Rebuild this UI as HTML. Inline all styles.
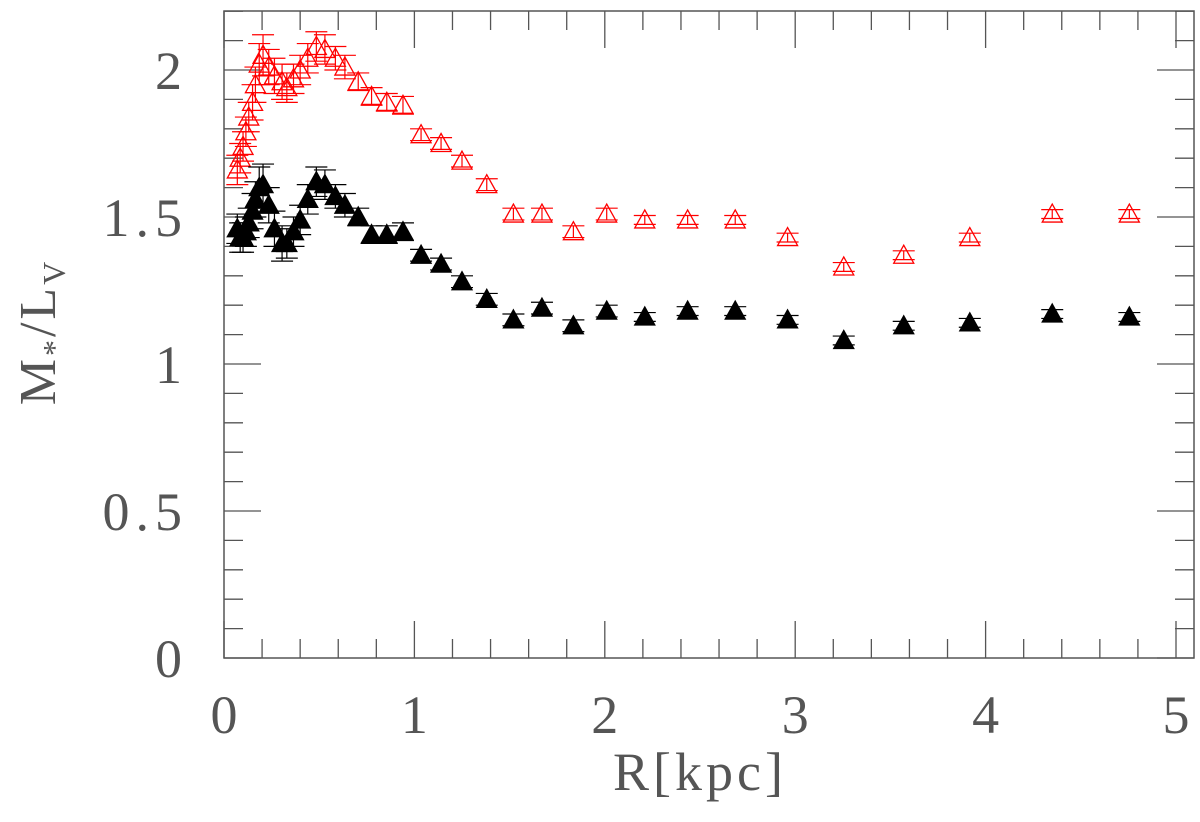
<!DOCTYPE html>
<html><head><meta charset="utf-8"><style>
html,body{margin:0;padding:0;background:#fff;width:1200px;height:822px;overflow:hidden}
svg{display:block}
text{font-family:"Liberation Serif",serif;fill:#555}
</style></head><body>
<svg id="chart" width="1200" height="822">
<g id="axes"></g>
<g id="series"></g>
<text x="700" y="790" font-size="54" text-anchor="middle" letter-spacing="4">R[kpc]</text>
<text transform="translate(55,332) rotate(-90)" font-size="52" text-anchor="middle" letter-spacing="3">M<tspan font-size="32" dy="10">*</tspan><tspan dy="-10">/L</tspan><tspan font-size="32" dy="10">V</tspan></text>
</svg>
<script>
const radius=[0.07,0.085,0.1,0.115,0.13,0.15,0.165,0.185,0.205,0.235,0.265,0.305,0.33,0.365,0.4,0.44,0.485,0.53,0.585,0.635,0.705,0.775,0.855,0.94,1.035,1.14,1.25,1.38,1.52,1.67,1.835,2.01,2.21,2.435,2.685,2.96,3.255,3.57,3.917,4.35,4.755];
const redValues=[1.66,1.70,1.74,1.79,1.84,1.89,1.95,2.02,2.05,2.01,1.98,1.96,1.94,1.97,2.00,2.04,2.08,2.07,2.04,2.01,1.96,1.91,1.89,1.88,1.78,1.75,1.69,1.61,1.51,1.51,1.45,1.51,1.49,1.49,1.49,1.43,1.33,1.37,1.43,1.51,1.51];
const redErrors=[0.05,0.05,0.05,0.05,0.05,0.06,0.06,0.07,0.07,0.06,0.06,0.06,0.05,0.05,0.05,0.05,0.05,0.05,0.04,0.04,0.03,0.03,0.03,0.03,0.02,0.02,0.02,0.02,0.02,0.02,0.02,0.02,0.015,0.015,0.015,0.015,0.015,0.015,0.015,0.015,0.015];
const blackValues=[1.46,1.43,1.43,1.45,1.48,1.52,1.56,1.60,1.61,1.54,1.46,1.41,1.41,1.45,1.49,1.56,1.62,1.61,1.57,1.54,1.50,1.44,1.44,1.45,1.37,1.34,1.28,1.22,1.15,1.19,1.13,1.18,1.16,1.18,1.18,1.15,1.08,1.13,1.14,1.17,1.16];
const blackErrors=[0.05,0.05,0.05,0.05,0.05,0.06,0.06,0.07,0.07,0.06,0.06,0.06,0.05,0.05,0.05,0.05,0.05,0.05,0.04,0.04,0.03,0.03,0.03,0.03,0.02,0.02,0.02,0.02,0.02,0.02,0.02,0.02,0.015,0.015,0.015,0.015,0.015,0.015,0.015,0.015,0.015];
const xTickLabels=["0","1","2","3","4","5"];
const yTickLabels=["0","0.5","1","1.5","2"];

const NS="http://www.w3.org/2000/svg";
const L=224,R=1194,T=11,B=658;
const sx=v=>L+v*190.4;
const sy=v=>B-v*294;
function mk(tag,attrs,parent){const e=document.createElementNS(NS,tag);for(const k in attrs)e.setAttribute(k,attrs[k]);parent.appendChild(e);return e;}
const ax=document.getElementById('axes');
const frame=mk('rect',{x:L,y:T,width:R-L,height:B-T,fill:'none',stroke:'#555','stroke-width':1.5},ax);


for(let i=0;i<=25;i++){const x=sx(i*0.2);if(x>R)break;const len=i%5===0?37:19;
 const t1=mk('line',{x1:x,x2:x,y1:B,y2:B-len,stroke:'#555','stroke-width':1.3},ax);
 
 
 const t2=mk('line',{x1:x,x2:x,y1:T,y2:T+len,stroke:'#555','stroke-width':1.3},ax);
 
 }
for(let i=0;i<=22;i++){const y=sy(i*0.1);const len=i%5===0?37:19;
 const t1=mk('line',{x1:L,x2:L+len,y1:y,y2:y,stroke:'#555','stroke-width':1.3},ax);
 
 
 const t2=mk('line',{x1:R,x2:R-len,y1:y,y2:y,stroke:'#555','stroke-width':1.3},ax);
 
 }
xTickLabels.forEach((s,i)=>{const t=mk('text',{x:sx(+s),y:733,'font-size':54,'text-anchor':'middle'},ax);t.textContent=s;
 
 });
yTickLabels.forEach(s=>{const t=mk('text',{x:188,y:sy(+s)+19,'font-size':54,'text-anchor':'end','letter-spacing':6},ax);t.textContent=s;
 
 });
const sg=document.getElementById('series');
function draw(vals,errs,color,filled,name){
 const g=mk('g',{},sg);
 
 
 radius.forEach((r,i)=>{const x=sx(r),y=sy(vals[i]),e=errs[i]*294;
  const eb=mk('path',{d:`M${x},${y-e}V${y+e}M${x-11},${y-e}H${x+11}M${x-11},${y+e}H${x+11}`,stroke:color,'stroke-width':1.2,fill:'none'},g);
  
  
  const tri=mk('path',{d:`M${x},${y-10}L${x+10},${y+8}L${x-10},${y+8}Z`,stroke:color,'stroke-width':1.3,fill:filled?color:'none'},g);
  
  });
}
draw(redValues,redErrors,'#f00',false,'red-series');
draw(blackValues,blackErrors,'#000',true,'black-series');
</script>
</body></html>
